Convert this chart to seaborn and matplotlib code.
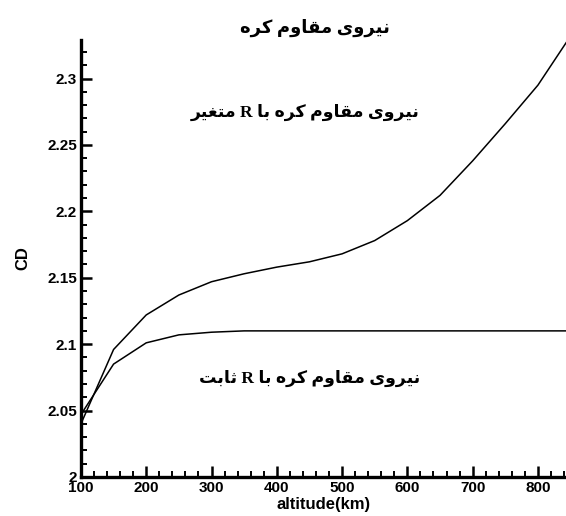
import matplotlib
matplotlib.use("Agg")
import matplotlib.pyplot as plt
import seaborn as sns
import pandas as pd
from matplotlib.ticker import MultipleLocator, FormatStrFormatter

# ---------------- data ----------------
altitude = [100, 150, 200, 250, 300, 350, 400, 450, 500, 550, 600, 650, 700, 750, 800, 850]
cd_variable_r = [2.040, 2.096, 2.122, 2.137, 2.147, 2.153, 2.158, 2.162, 2.168, 2.178,
                 2.193, 2.212, 2.238, 2.266, 2.295, 2.332]
cd_constant_r = [2.047, 2.085, 2.101, 2.107, 2.109, 2.110, 2.110, 2.110, 2.110, 2.110,
                 2.110, 2.110, 2.110, 2.110, 2.110, 2.110]
title_text = "نیروی مقاوم کره"
label_variable = "نیروی مقاوم کره با R متغیر"
label_constant = "نیروی مقاوم کره با R ثابت"
x_label = "altitude(km)"
y_label = "CD"

# ---------------- simple Arabic/Persian shaping ----------------
FORMS = {  # isolated, final, initial, medial
    "ن": ("\uFEE5", "\uFEE6", "\uFEE7", "\uFEE8"),
    "ی": ("\uFBFC", "\uFBFD", "\uFBFE", "\uFBFF"),
    "م": ("\uFEE1", "\uFEE2", "\uFEE3", "\uFEE4"),
    "ق": ("\uFED5", "\uFED6", "\uFED7", "\uFED8"),
    "ک": ("\uFB8E", "\uFB8F", "\uFB90", "\uFB91"),
    "ه": ("\uFEE9", "\uFEEA", "\uFEEB", "\uFEEC"),
    "ب": ("\uFE8F", "\uFE90", "\uFE91", "\uFE92"),
    "ت": ("\uFE95", "\uFE96", "\uFE97", "\uFE98"),
    "ث": ("\uFE99", "\uFE9A", "\uFE9B", "\uFE9C"),
    "غ": ("\uFECD", "\uFECE", "\uFECF", "\uFED0"),
    "ر": ("\uFEAD", "\uFEAE", None, None),
    "و": ("\uFEED", "\uFEEE", None, None),
    "ا": ("\uFE8D", "\uFE8E", None, None),
}


def dual(c):
    return c in FORMS and FORMS[c][2] is not None


def shape(text):
    out = []
    n = len(text)
    for i, c in enumerate(text):
        if c not in FORMS:
            out.append(c)
            continue
        prev = text[i - 1] if i > 0 else ""
        nxt = text[i + 1] if i < n - 1 else ""
        join_prev = dual(prev)
        join_next = dual(c) and nxt in FORMS
        iso, fin, ini, med = FORMS[c]
        if join_prev and join_next:
            out.append(med)
        elif join_prev:
            out.append(fin)
        elif join_next:
            out.append(ini)
        else:
            out.append(iso)
    return "".join(out)[::-1]


# ---------------- plot ----------------
sns.set_theme(style="white")
plt.rcParams["font.family"] = ["DejaVu Sans"]
plt.rcParams["text.color"] = "black"
plt.rcParams["axes.labelcolor"] = "black"

df = pd.DataFrame({
    "altitude": altitude * 2,
    "CD": cd_variable_r + cd_constant_r,
    "case": ["variable"] * len(altitude) + ["constant"] * len(altitude),
})

fig = plt.figure(figsize=(5.66, 5.16), dpi=100)
ax = fig.add_axes([0.143, 0.0756, 0.857, 0.8469])

sns.lineplot(data=df, x="altitude", y="CD", units="case", estimator=None,
             color="black", linewidth=1.1, ax=ax, legend=False)

ax.set_xlim(100, 843)
ax.set_ylim(2.0, 2.329)

ax.xaxis.set_major_locator(MultipleLocator(100))
ax.xaxis.set_minor_locator(MultipleLocator(20))
ax.yaxis.set_major_locator(MultipleLocator(0.05))
ax.yaxis.set_minor_locator(MultipleLocator(0.01))
ax.yaxis.set_major_formatter(FormatStrFormatter("%g"))
ax.xaxis.set_major_formatter(FormatStrFormatter("%g"))

for s in ["top", "right"]:
    ax.spines[s].set_visible(False)
for s in ["left", "bottom"]:
    ax.spines[s].set_linewidth(2.4)
    ax.spines[s].set_color("black")

tick_font = ["Liberation Sans", "DejaVu Sans"]
ax.tick_params(which="both", bottom=True, left=True, top=False, right=False)
ax.tick_params(which="major", direction="in", length=8, width=1.8, colors="black",
               labelsize=11, pad=3)
ax.tick_params(which="minor", direction="in", length=4, width=1.4, colors="black")
for lab in ax.get_xticklabels() + ax.get_yticklabels():
    lab.set_fontfamily(tick_font)
    lab.set_fontweight("bold")

ax.set_xlabel(x_label, fontsize=12, fontweight="bold", family=tick_font, labelpad=1)
ax.set_ylabel(y_label, fontsize=12, fontweight="bold", family=tick_font, labelpad=12)

arabic_font = ["Liberation Serif", "DejaVu Sans"]
fig.text(0.557, 0.946, shape(title_text), ha="center", va="center",
         fontsize=13, fontweight="bold", family=arabic_font)
ax.text(0.462, 0.835, shape(label_variable), transform=ax.transAxes, ha="center",
        va="center", fontsize=12.5, fontweight="bold", family=arabic_font)
ax.text(0.472, 0.2265, shape(label_constant), transform=ax.transAxes, ha="center",
        va="center", fontsize=12.5, fontweight="bold", family=arabic_font)

fig.savefig("out.png", dpi=100)
